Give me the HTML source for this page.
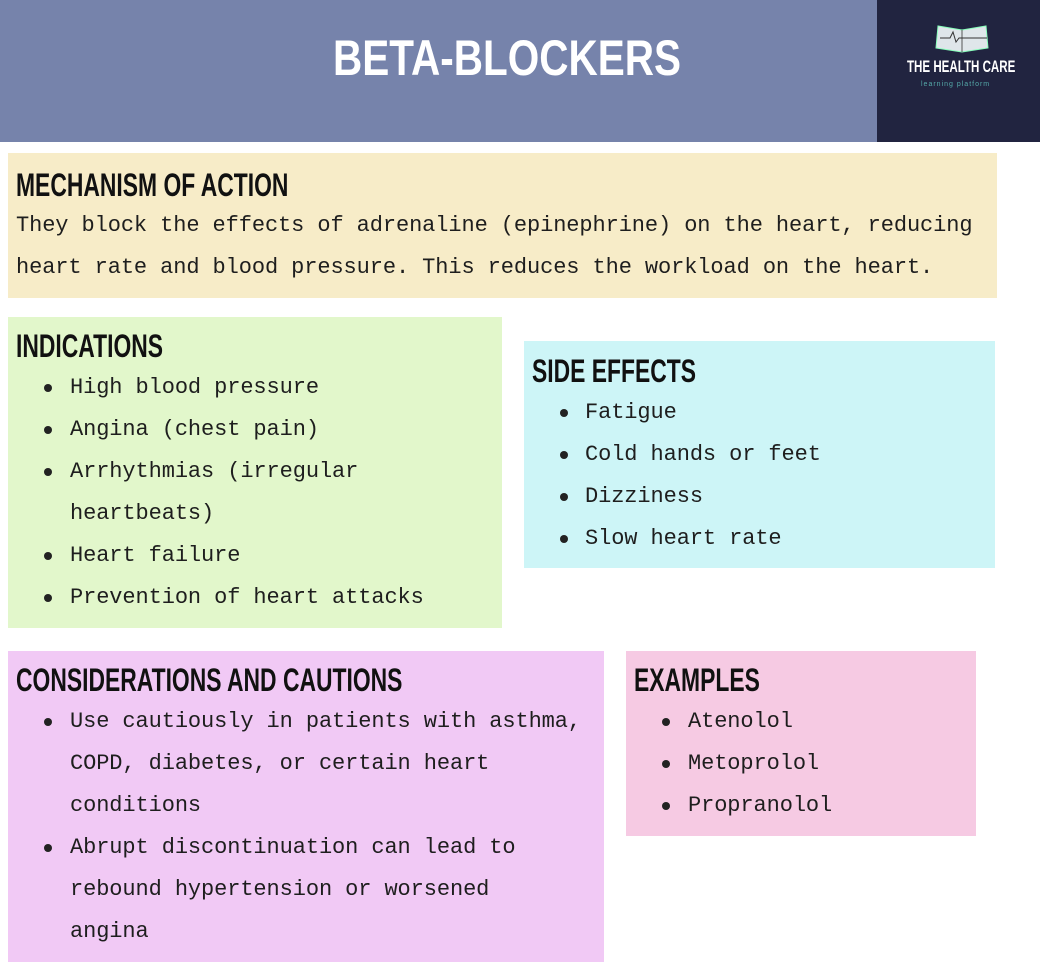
<!DOCTYPE html>
<html><head><meta charset="utf-8"><style>
*{margin:0;padding:0;box-sizing:border-box}
body{width:1040px;height:966px;position:relative;background:#fff;overflow:hidden;font-family:"Liberation Mono",monospace;color:#1e1e1e}
.b{position:absolute}
.h{position:absolute;font-family:"Liberation Sans",sans-serif;font-weight:bold;font-size:32px;line-height:34px;color:#111;transform:scaleX(0.715);transform-origin:left center;white-space:nowrap}
.t{position:absolute;font-size:22px;line-height:30px;white-space:nowrap;letter-spacing:-0.1px;margin-top:2px}
.d{position:absolute;width:8px;height:8px;border-radius:50%;background:#222;margin-top:2px}
</style></head><body>
<div class="b" style="left:0;top:0;width:877px;height:142px;background:#7683ab"></div>
<div class="b" style="left:877px;top:0;width:163px;height:142px;background:#212440"></div>
<div class="h" style="left:333px;top:33px;font-size:50px;line-height:50px;color:#fff;transform:scaleX(0.81)">BETA-BLOCKERS</div>
<svg class="b" style="left:932px;top:20px" width="60" height="36"><path d="M4 28 L30 32 L56 28 L54 6 L30 10 L6 6 Z" fill="#dfe6ea" stroke="#8fb" stroke-width="1"/><path d="M30 10 L30 32" stroke="#555"/><path d="M8 18 h10 l3 -6 l3 10 l3 -4 h28" stroke="#333" fill="none"/></svg>
<div class="h" style="left:907px;top:58px;font-size:17px;line-height:18px;color:#fff;transform:scaleX(0.68)">THE HEALTH CARE</div>
<div class="b" style="left:921px;top:81px;font-size:7px;color:#5aa;font-family:'Liberation Sans',sans-serif;letter-spacing:1px">learning platform</div>

<div class="b" style="left:8px;top:153px;width:989px;height:145px;background:#f7ecc8"></div>
<div class="h" style="left:16px;top:168px">MECHANISM OF ACTION</div>
<div class="t" style="left:16px;top:209px">They block the effects of adrenaline (epinephrine) on the heart, reducing</div>
<div class="t" style="left:16px;top:251px">heart rate and blood pressure. This reduces the workload on the heart.</div>

<div class="b" style="left:8px;top:317px;width:494px;height:311px;background:#e2f7cb"></div>
<div class="h" style="left:16px;top:329px">INDICATIONS</div>
<div class="d" style="left:44px;top:382px"></div><div class="t" style="left:70px;top:371px">High blood pressure</div>
<div class="d" style="left:44px;top:424px"></div><div class="t" style="left:70px;top:413px">Angina (chest pain)</div>
<div class="d" style="left:44px;top:466px"></div><div class="t" style="left:70px;top:455px">Arrhythmias (irregular</div>
<div class="t" style="left:70px;top:497px">heartbeats)</div>
<div class="d" style="left:44px;top:550px"></div><div class="t" style="left:70px;top:539px">Heart failure</div>
<div class="d" style="left:44px;top:592px"></div><div class="t" style="left:70px;top:581px">Prevention of heart attacks</div>

<div class="b" style="left:524px;top:341px;width:471px;height:227px;background:#cdf5f7"></div>
<div class="h" style="left:532px;top:354px">SIDE EFFECTS</div>
<div class="d" style="left:560px;top:407px"></div><div class="t" style="left:585px;top:396px">Fatigue</div>
<div class="d" style="left:560px;top:449px"></div><div class="t" style="left:585px;top:438px">Cold hands or feet</div>
<div class="d" style="left:560px;top:491px"></div><div class="t" style="left:585px;top:480px">Dizziness</div>
<div class="d" style="left:560px;top:533px"></div><div class="t" style="left:585px;top:522px">Slow heart rate</div>

<div class="b" style="left:8px;top:651px;width:596px;height:311px;background:#f1c9f5"></div>
<div class="h" style="left:16px;top:663px">CONSIDERATIONS AND CAUTIONS</div>
<div class="d" style="left:44px;top:716px"></div><div class="t" style="left:70px;top:705px">Use cautiously in patients with asthma,</div>
<div class="t" style="left:70px;top:747px">COPD, diabetes, or certain heart</div>
<div class="t" style="left:70px;top:789px">conditions</div>
<div class="d" style="left:44px;top:842px"></div><div class="t" style="left:70px;top:831px">Abrupt discontinuation can lead to</div>
<div class="t" style="left:70px;top:873px">rebound hypertension or worsened</div>
<div class="t" style="left:70px;top:915px">angina</div>

<div class="b" style="left:626px;top:651px;width:350px;height:185px;background:#f6cae3"></div>
<div class="h" style="left:634px;top:663px">EXAMPLES</div>
<div class="d" style="left:662px;top:716px"></div><div class="t" style="left:688px;top:705px">Atenolol</div>
<div class="d" style="left:662px;top:758px"></div><div class="t" style="left:688px;top:747px">Metoprolol</div>
<div class="d" style="left:662px;top:800px"></div><div class="t" style="left:688px;top:789px">Propranolol</div>
</body></html>
